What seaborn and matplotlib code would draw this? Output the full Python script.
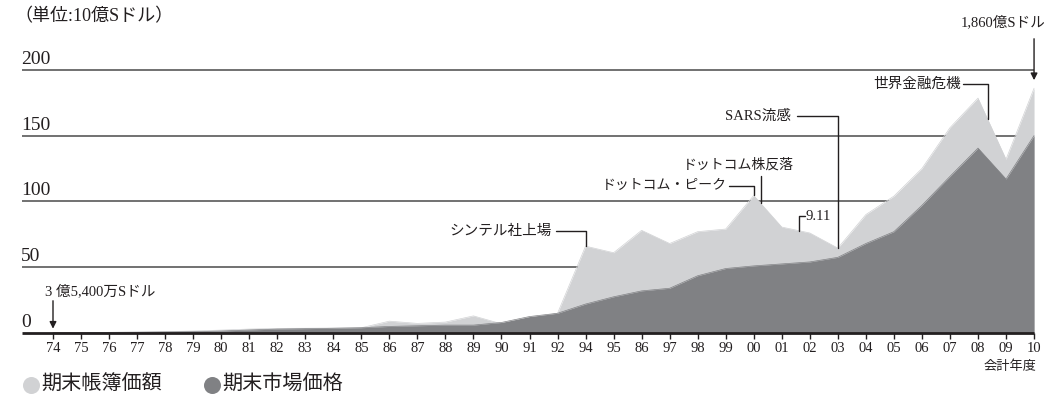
import numpy as np
import pandas as pd
import matplotlib
matplotlib.use("Agg")
import matplotlib.pyplot as plt
import seaborn as sns

# ---------------- data (10億Sドル) ----------------
year_labels = ["74", "75", "76", "77", "78", "79", "80", "81", "82", "83",
               "84", "85", "86", "87", "88", "89", "90", "91", "92", "94",
               "95", "86", "97", "98", "99", "00", "01", "02", "03", "04",
               "05", "06", "07", "08", "09", "10"]
book_value = [0.35, 0.4, 0.5, 0.7, 1.0, 1.5, 2.2, 3.0, 3.5, 3.6,
              3.8, 4.0, 9.0, 7.3, 8.3, 13.0, 7.0, 11.0, 15.0, 66.0,
              61.0, 78.0, 68.0, 77.0, 79.0, 104.5, 80.5, 76.0, 64.5, 90.0,
              104.0, 125.0, 156.0, 178.5, 132.0, 186.0]
market_value = [0.35, 0.4, 0.5, 0.6, 0.8, 1.0, 1.5, 2.3, 3.0, 3.3,
                3.6, 4.0, 5.0, 5.5, 6.0, 6.0, 8.0, 12.5, 15.0, 22.0,
                27.5, 32.0, 34.0, 43.5, 49.0, 51.0, 52.5, 54.0, 57.5, 68.0,
                77.0, 97.0, 119.0, 140.5, 117.0, 150.0]
y_ticks = [0, 50, 100, 150, 200]
legend_labels = ["期末帳簿価額", "期末市場価格"]

LIGHT = "#d1d2d4"
DARK = "#808184"
INK = "#231f20"
GRID = "#4a4a4a"

sns.set_theme(style="white")
plt.rcParams['font.family'] = ['Liberation Serif', 'Noto Sans CJK JP']
plt.rcParams['text.color'] = INK

df = pd.DataFrame({"idx": np.arange(len(year_labels)), "year": year_labels,
                   "book": book_value, "market": market_value})

W, H = 1054, 403
fig = plt.figure(figsize=(W / 100, H / 100), dpi=100)
ax = fig.add_axes([0, 0, 1, 1])

# pixel layout helpers (layout only)
X0, DX = 53.0, 28.03
Y0, DY = 333.0, 1.316
def px(x):
    return (x - X0) / DX
def py(y):
    return (Y0 - y) / DY

# areas
ax.fill_between(df["idx"], 0, df["book"], color=LIGHT, lw=0, zorder=2)
ax.fill_between(df["idx"], 0, df["market"], color=DARK, lw=0, zorder=4)
sns.lineplot(data=df, x="idx", y="book", color=LIGHT, lw=0.5, ax=ax, zorder=2)
sns.lineplot(data=df, x="idx", y="market", color=DARK, lw=0.5, ax=ax, zorder=4)

# grid lines & labels (behind the areas)
for v in y_ticks[1:]:
    ax.hlines(v, px(22), px(1034), color=GRID, lw=1.1, zorder=1)
ax.hlines(0, px(22), px(1034), color=INK, lw=2.0, zorder=6)
for v in y_ticks:
    ax.text(px(21), v + 6 / DY, str(v), fontsize=14, ha="left", va="baseline", zorder=7)

# x ticks
for i, lab in enumerate(year_labels):
    ax.vlines(i, py(338.5), 0, color=INK, lw=1.0, zorder=6)
    ax.text(i, py(348), lab, fontsize=10.5, ha="center", va="center")
ax.text(px(1010), py(367), "会計年度", fontsize=9.5, ha="center", va="center")

# title
ax.text(px(14), py(17), "（単位:10億Sドル）", fontsize=13, ha="left", va="center")

# annotations
lw_a = 1.0
fs_a = 10.5
# 3億5,400万Sドル
ax.text(px(45), py(291), "3 億5,400万Sドル", fontsize=10.5, ha="left", va="center")
ax.annotate("", xy=(0, df["market"][0] + 0.8), xytext=(0, py(298)),
            arrowprops=dict(arrowstyle="-|>", color=INK, lw=1.0, mutation_scale=10), zorder=8)
# 1,860億Sドル
last = len(year_labels) - 1
ax.text(px(1046), py(22), "1,860億Sドル", fontsize=10.5, ha="right", va="center")
ax.annotate("", xy=(last, df["book"][last] + 4), xytext=(last, py(36)),
            arrowprops=dict(arrowstyle="-|>", color=INK, lw=1.0, mutation_scale=10), zorder=8)

# シンテル社上場 (94)
i94 = 19
yv = py(231)
ax.plot([px(556), i94, i94], [yv, yv, df["book"][i94]], color=INK, lw=lw_a, zorder=8)
ax.text(px(552), yv, "シンテル社上場", fontsize=fs_a, ha="right", va="center")

# ドットコム・ピーク (00)
i00 = 25
yv = py(185.5)
ax.plot([px(729), i00, i00], [yv, yv, df["book"][i00]], color=INK, lw=lw_a, zorder=8)
ax.text(px(727), yv, "ドットコム・ピーク", fontsize=10, ha="right", va="center")

# ドットコム株反落
xr = px(760.7)
ax.plot([xr, xr], [np.interp(xr, df["idx"], df["book"]), py(176)], color=INK, lw=lw_a, zorder=8)
ax.text(px(738), py(165), "ドットコム株反落", fontsize=10, ha="center", va="center")

# 9.11
x911 = px(799.3)
ax.plot([x911, x911, px(805)], [np.interp(x911, df["idx"], df["book"]), py(216), py(216)],
        color=INK, lw=lw_a, zorder=8)
ax.text(px(806), py(216), "9.11", fontsize=10.5, ha="left", va="center")

# SARS流感 (03)
i03 = 28
yv = py(116)
ax.plot([px(797), i03, i03], [yv, yv, df["book"][i03]], color=INK, lw=lw_a, zorder=8)
ax.text(px(791), yv, "SARS流感", fontsize=fs_a, ha="right", va="center")

# 世界金融危機
xg = px(987.7)
yv = py(84)
ax.plot([px(963), xg, xg], [yv, yv, np.interp(xg, df["idx"], df["book"])], color=INK, lw=lw_a, zorder=8)
ax.text(px(961), yv, "世界金融危機", fontsize=fs_a, ha="right", va="center")

# legend
ax.scatter([px(31)], [py(385)], s=150, color=LIGHT, lw=0, zorder=8)
ax.text(px(41), py(385), legend_labels[0], fontsize=14.5, ha="left", va="center")
ax.scatter([px(212)], [py(385)], s=150, color=DARK, lw=0, zorder=8)
ax.text(px(222), py(385), legend_labels[1], fontsize=14.5, ha="left", va="center")

ax.set_xlim(px(0), px(W))
ax.set_ylim(py(H), py(0))
ax.axis("off")
fig.savefig("out.png", dpi=100)
